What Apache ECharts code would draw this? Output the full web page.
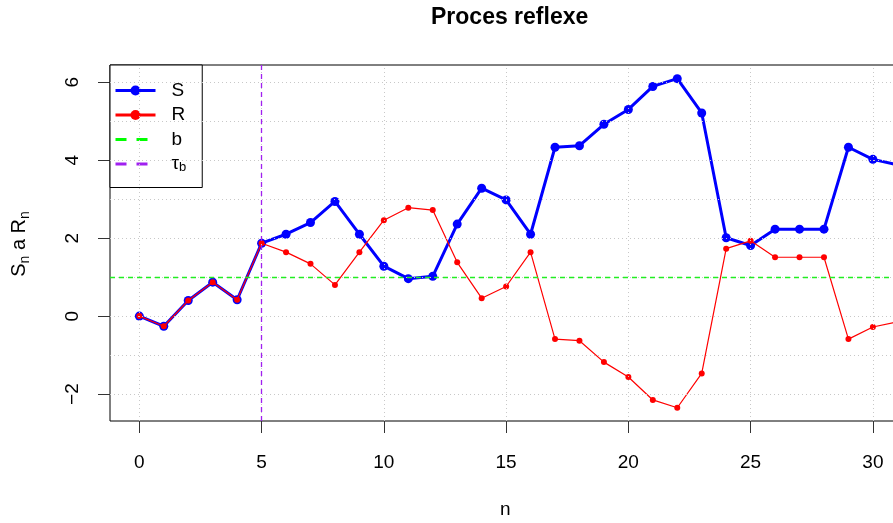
<!DOCTYPE html>
<html>
<head>
<meta charset="utf-8">
<script src="https://cdn.jsdelivr.net/npm/echarts@6/dist/echarts.min.js"></script>
<style>
  html, body { margin: 0; padding: 0; background: #fff; overflow: hidden; }
  #main { width: 913px; height: 523px; }
</style>
</head>
<body>
<div id="main"></div>
<script>
// steps of the process
const n = [0, 1, 2, 3, 4, 5, 6, 7, 8, 9, 10, 11, 12, 13, 14, 15, 16, 17, 18, 19, 20, 21, 22, 23, 24, 25, 26, 27, 28, 29, 30, 31]
// S_n (blue) and reflected R_n (red)
const S = [0, -0.26, 0.40, 0.87, 0.42, 1.87, 2.10, 2.40, 2.94, 2.10, 1.28, 0.96, 1.02, 2.36, 3.28, 2.98, 2.10, 4.33, 4.37, 4.92, 5.30, 5.89, 6.09, 5.21, 2.01, 1.81, 2.23, 2.23, 2.23, 4.33, 4.02, 3.88]
const R = [0, -0.26, 0.40, 0.87, 0.42, 1.87, 1.64, 1.34, 0.80, 1.64, 2.46, 2.78, 2.72, 1.38, 0.46, 0.76, 1.64, -0.59, -0.63, -1.18, -1.56, -2.15, -2.35, -1.47, 1.73, 1.93, 1.51, 1.51, 1.51, -0.59, -0.28, -0.15]
const bLevel = 1
const tauB = 5

const xTicks = [0, 5, 10, 15, 20, 25, 30]
const yTicks = [-2, 0, 2, 4, 6]
const gridX = [0, 5, 10, 15, 20, 25, 30]
const gridY = [-2, -1, 0, 1, 2, 3, 4, 5, 6]

const font = 'Liberation Sans, Arial, sans-serif'
const minus = (v) => String(v).replace('-', '\u2212')

const chart = echarts.init(document.getElementById('main'), null, { renderer: 'canvas' })

const option = {
  animation: false,
  backgroundColor: '#fff',
  textStyle: { fontFamily: font },
  title: {
    text: 'Proces reflexe',
    left: 426,
    top: 1,
    textStyle: { fontSize: 23, fontWeight: 'bold', color: '#000', fontFamily: font },
  },
  graphic: [
    {
      type: 'text',
      x: 19,
      y: 244,
      rotation: Math.PI / 2,
      style: {
        text: '{a|S}{s|n}{a| a R}{s|n}',
        align: 'center',
        verticalAlign: 'middle',
        rich: {
          a: { fontSize: 20, fontFamily: font, fill: '#000', lineHeight: 26 },
          s: { fontSize: 14, fontFamily: font, fill: '#000', lineHeight: 14, verticalAlign: 'bottom' },
        },
      },
    },
    {
      type: 'text',
      left: 500,
      top: 500,
      style: { text: 'n', fontSize: 19, fontFamily: font, fill: '#000' },
    },
  ],
  legend: {
    orient: 'vertical',
    left: 110,
    top: 65,
    padding: [16, 16, 14, 4],
    itemWidth: 40,
    itemHeight: 12.5,
    itemGap: 5.5,
    borderColor: '#000',
    borderWidth: 1,
    borderRadius: 0,
    backgroundColor: '#fff',
    selectedMode: false,
    textStyle: {
      fontSize: 19,
      lineHeight: 19,
      color: '#000',
      fontFamily: font,
      padding: [0, 0, 0, 11],
      rich: {
        t: { fontSize: 19, lineHeight: 19, fontFamily: font, color: '#000' },
        s: { fontSize: 13, lineHeight: 13, fontFamily: font, color: '#000', verticalAlign: 'bottom' },
      },
    },
    formatter: (name) => (name === 'τb' ? '{t|τ}{s|b}' : name),
    data: [
      { name: 'S', lineStyle: { width: 3, color: '#0000ff' }, itemStyle: { color: '#0000ff', borderColor: '#0000ff', borderWidth: 0 } },
      { name: 'R', lineStyle: { width: 3, color: '#ff0000' }, itemStyle: { color: '#ff0000', borderColor: '#ff0000', borderWidth: 0 } },
      { name: 'b', lineStyle: { width: 3, color: '#00ff00', type: [11, 10] }, itemStyle: { color: 'rgba(0,0,0,0)', borderWidth: 0 } },
      { name: 'τb', lineStyle: { width: 3, color: '#a020f0', type: [11, 10] }, itemStyle: { color: 'rgba(0,0,0,0)', borderWidth: 0 } },
    ],
  },
  grid: {
    left: 110,
    top: 65,
    width: 802,
    height: 356,
    show: true,
    borderColor: '#000',
    borderWidth: 1,
    backgroundColor: '#fff',
    containLabel: false,
  },
  xAxis: {
    type: 'value',
    min: -1.2,
    max: 31.6,
    axisLine: { show: false, onZero: false },
    splitLine: { show: false },
    axisTick: { show: true, length: 12, customValues: xTicks, lineStyle: { color: '#333' } },
    axisLabel: { customValues: xTicks, margin: 32, fontSize: 19, color: '#000', fontFamily: font },
  },
  yAxis: {
    type: 'value',
    min: -2.69,
    max: 6.44,
    axisLine: { show: false, onZero: false },
    splitLine: { show: false },
    axisTick: { show: true, length: 12, customValues: yTicks, lineStyle: { color: '#333' } },
    axisLabel: {
      customValues: yTicks,
      rotate: 90,
      margin: 28,
      fontSize: 19,
      color: '#000',
      fontFamily: font,
      formatter: minus,
    },
  },
  series: [
    {
      name: 'grid',
      type: 'line',
      data: [],
      z: 1,
      silent: true,
      markLine: {
        silent: true,
        symbol: 'none',
        label: { show: false },
        lineStyle: { color: '#c8c8c8', type: [1, 3], width: 1 },
        data: gridX.map((v) => ({ xAxis: v })).concat(gridY.map((v) => ({ yAxis: v }))),
      },
    },
    {
      name: 'b',
      type: 'line',
      data: [],
      z: 2,
      symbol: 'none',
      lineStyle: { color: '#00ff00', type: [5, 4], width: 1.3 },
      itemStyle: { color: '#00ff00' },
      markLine: {
        silent: true,
        symbol: 'none',
        label: { show: false },
        lineStyle: { color: '#22ee22', type: [5, 4], width: 1.4 },
        data: [{ yAxis: bLevel }],
      },
    },
    {
      name: 'τb',
      type: 'line',
      data: [],
      z: 2,
      symbol: 'none',
      lineStyle: { color: '#a020f0', type: [5, 4], width: 1.3 },
      itemStyle: { color: '#a020f0' },
      markLine: {
        silent: true,
        symbol: 'none',
        label: { show: false },
        lineStyle: { color: '#a020f0', type: [5, 4], width: 1.3 },
        data: [{ xAxis: tauB }],
      },
    },
    {
      name: 'S',
      type: 'line',
      z: 3,
      data: n.map((v, i) => [v, S[i]]),
      symbol: 'circle',
      symbolSize: 9,
      showAllSymbol: true,
      lineStyle: { color: '#0000ff', width: 3 },
      itemStyle: { color: '#0000ff' },
    },
    {
      name: 'R',
      type: 'line',
      z: 4,
      data: n.map((v, i) => [v, R[i]]),
      symbol: 'circle',
      symbolSize: 6,
      showAllSymbol: true,
      lineStyle: { color: '#ff0000', width: 1.2 },
      itemStyle: { color: '#ff0000' },
    },
  ],
}

chart.setOption(option)
</script>
</body>
</html>
